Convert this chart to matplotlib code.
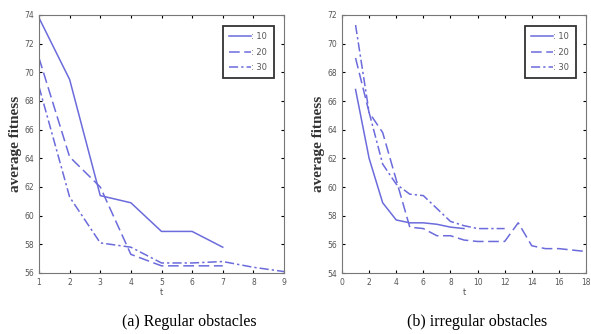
import matplotlib
matplotlib.use("Agg")
import matplotlib.pyplot as plt

# (a) regular obstacles
t_a10 = [1, 2, 3, 4, 5, 6, 7]
fit_a10 = [73.8, 69.5, 61.4, 60.9, 58.9, 58.9, 57.8]
t_a20 = [1, 2, 3, 4, 5, 6, 7]
fit_a20 = [71.0, 64.1, 62.0, 57.3, 56.5, 56.5, 56.5]
t_a30 = [1, 2, 3, 4, 5, 6, 7, 8, 9]
fit_a30 = [69.0, 61.3, 58.1, 57.8, 56.7, 56.7, 56.8, 56.4, 56.1]

# (b) irregular obstacles
t_b10 = [1, 2, 3, 4, 5, 6, 7, 8, 9]
fit_b10 = [66.8, 62.0, 58.9, 57.7, 57.5, 57.5, 57.4, 57.2, 57.1]
t_b20 = [1, 2, 3, 4, 5, 6, 7, 8, 9, 10, 11, 12, 13, 14, 15, 16, 17, 18]
fit_b20 = [69.0, 65.2, 63.8, 60.5, 57.2, 57.1, 56.6, 56.6, 56.3, 56.2, 56.2,
           56.2, 57.5, 55.9, 55.7, 55.7, 55.6, 55.5]
t_b30 = [1, 2, 3, 4, 5, 6, 7, 8, 9, 10, 11, 12]
fit_b30 = [71.3, 65.2, 61.6, 60.2, 59.5, 59.4, 58.5, 57.6, 57.3, 57.1, 57.1, 57.1]

legend_labels = [": 10", ": 20", ": 30"]
captions = ["(a) Regular obstacles", "(b) irregular obstacles"]

color = "#6b6bdc"
styles = ["-", (0, (7, 3)), (0, (6, 2, 1.5, 2))]

fig = plt.figure(figsize=(5.91, 3.34), dpi=100)
ax1 = fig.add_axes([39 / 591, 1 - 273 / 334, 245 / 591, 258 / 334])
ax2 = fig.add_axes([342 / 591, 1 - 273 / 334, 244 / 591, 258 / 334])


def draw(ax, series, xlim, xticks, ylim, yticks):
    for (x, y), ls, lab in zip(series, styles, legend_labels):
        ax.plot(x, y, color=color, linestyle=ls, linewidth=1.1, label=lab)
    ax.set_xlim(*xlim)
    ax.set_ylim(*ylim)
    ax.set_xticks(xticks)
    ax.set_yticks(yticks)
    ax.tick_params(labelsize=5.5, labelcolor="#555555", length=2, direction="in",
                   top=True, right=True)
    for s in ax.spines.values():
        s.set_color("#777777")
        s.set_linewidth(0.8)
    ax.set_xlabel("t", fontsize=6, color="#555555", labelpad=1)
    ax.set_ylabel("average fitness", fontsize=11, family="Liberation Serif",
                  fontweight="bold", color="#333333", labelpad=2)
    leg = ax.legend(loc="upper right", bbox_to_anchor=(0.975, 0.975),
                    fontsize=6, handlelength=2.6,
                    fancybox=False, framealpha=1, borderpad=0.75,
                    labelspacing=0.8, handletextpad=0.1)
    leg.get_frame().set_edgecolor("#333333")
    leg.get_frame().set_linewidth(1.3)
    for txt in leg.get_texts():
        txt.set_color("#555555")


draw(ax1, [(t_a10, fit_a10), (t_a20, fit_a20), (t_a30, fit_a30)],
     (1, 9), range(1, 10), (56, 74), range(56, 75, 2))
draw(ax2, [(t_b10, fit_b10), (t_b20, fit_b20), (t_b30, fit_b30)],
     (0, 18), range(0, 19, 2), (54, 72), range(54, 73, 2))

fig.text(122 / 591, 1 - 322 / 334, captions[0], fontsize=11.5,
         family="Liberation Serif", ha="left", va="center")
fig.text(407 / 591, 1 - 322 / 334, captions[1], fontsize=11.5,
         family="Liberation Serif", ha="left", va="center")

fig.savefig("out.png", dpi=100)
